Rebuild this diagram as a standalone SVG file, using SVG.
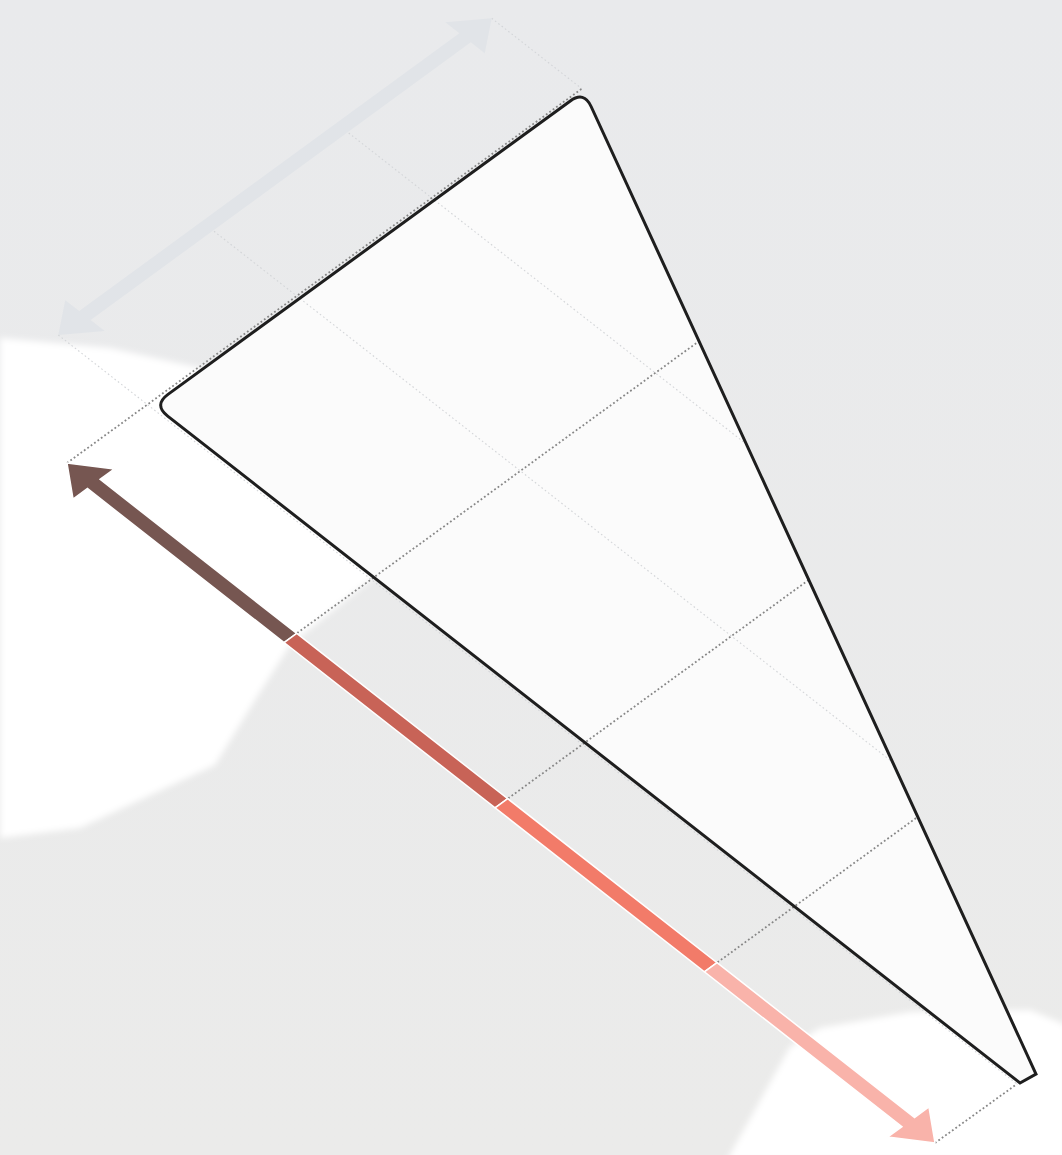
<svg xmlns="http://www.w3.org/2000/svg" width="1062" height="1155" viewBox="0 0 1062 1155">
  <defs>
    <filter id="soft" x="-5%" y="-5%" width="110%" height="110%">
      <feGaussianBlur stdDeviation="3"/>
    </filter>
    <linearGradient id="bgGrad" x1="0" y1="0" x2="0" y2="1">
      <stop offset="0" stop-color="#e9eaec"/>
      <stop offset="1" stop-color="#ebebea"/>
    </linearGradient>
    <path id="triPath" d="M570.3,101 Q584,91 591.1,106.5 L1036,1074 L1020,1083 L167.7,416.1 Q153.5,405 168,394.4 Z"/>
  </defs>
  <style>
    .faint { stroke: #d3d5d8; stroke-width: 1.1; stroke-dasharray: 1.6 2.6; fill: none; }
    .dots { stroke: #868686; stroke-width: 1.8; stroke-dasharray: 1.8 2.4; fill: none; }
    .seg { stroke: #ffffff; stroke-width: 1.5; stroke-linejoin: miter; }
  </style>

  <g id="background">
    <rect x="0" y="0" width="1062" height="1155" fill="url(#bgGrad)"/>
    <g filter="url(#soft)" fill="#ffffff">
      <polygon points="0,338 110,348 200,368 260,400 380,572 290,645 255,700 215,765 80,828 0,838"/>
      <polygon points="727,1160 790,1047 820,1028 910,1012 1030,1010 1066,1025 1066,1160"/>
    </g>
  </g>

  <g id="shape-fill">
    <use href="#triPath" fill="#fbfbfb"/>
  </g>

  <g id="connectors">
    <g id="guides-faint">
      <line class="faint" x1="491.7" y1="18.3" x2="581.8" y2="88.7"/>
      <line class="faint" x1="342.1" y1="127.8" x2="746.3" y2="444.1"/>
      <line class="faint" x1="207.4" y1="226.1" x2="892.8" y2="762.3"/>
      <line class="faint" x1="58.3" y1="335" x2="1017" y2="1084"/>
    </g>
    <g id="guides-dark">
      <line class="dots" x1="67" y1="463" x2="581.8" y2="88.7"/>
      <line class="dots" x1="290.4" y1="638" x2="699.1" y2="341.1"/>
      <line class="dots" x1="501.4" y1="803.3" x2="808.7" y2="579.9"/>
      <line class="dots" x1="710.7" y1="967.3" x2="917.8" y2="816.8"/>
      <line class="dots" x1="935" y1="1143" x2="1017" y2="1084"/>
    </g>
    <g id="arrow-top">
      <polygon fill="#e1e4e8" points="491.7,18.3 484.76,53.17 470.79,42.25 90.67,320.01 104.64,330.93 58.3,335 65.24,300.13 79.21,311.05 459.33,33.29 445.36,22.37"/>
    </g>
    <g id="arrow-bottom">
      <polygon class="seg" fill="#765651" points="67,463 114.47,468.92 100.07,479.38 296.71,633.41 284.09,642.59 87.45,488.56 73.05,499.02"/>
      <polygon class="seg" fill="#c86357" points="296.71,633.41 507.71,798.71 495.09,807.89 284.09,642.59"/>
      <polygon class="seg" fill="#f27b69" points="507.71,798.71 717.01,962.71 704.39,971.89 495.09,807.89"/>
      <polygon class="seg" fill="#f9b3aa" points="717.01,962.71 914.55,1117.44 928.95,1106.98 935,1143 887.53,1137.08 901.93,1126.62 704.39,971.89"/>
    </g>
  </g>

  <g id="shape">
    <use href="#triPath" fill="none" stroke="#1e1e1e" stroke-width="3" stroke-linejoin="miter"/>
  </g>
</svg>
